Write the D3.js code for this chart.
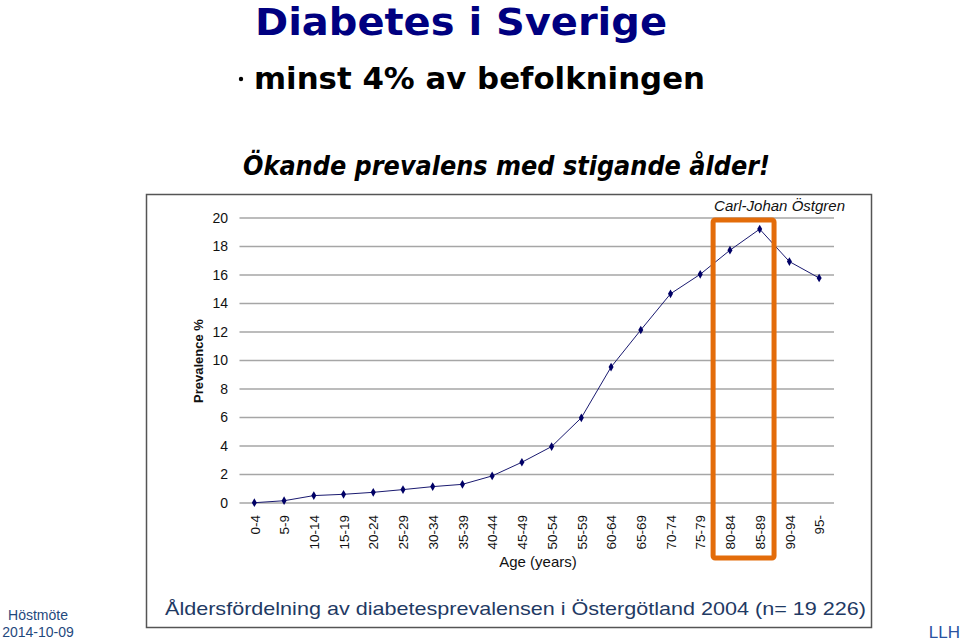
<!DOCTYPE html>
<html><head><meta charset="utf-8">
<script src="https://d3js.org/d3.v7.min.js"></script>
<style>body{margin:0;background:#fff}svg{display:block}</style>
</head><body>
<svg id="c" width="960" height="642"></svg>
<script>
const categories = ["0-4","5-9","10-14","15-19","20-24","25-29","30-34","35-39","40-44","45-49","50-54","55-59","60-64","65-69","70-74","75-79","80-84","85-89","90-94","95-"];
const prevalence = [0.02,0.16,0.52,0.61,0.75,0.94,1.15,1.31,1.9,2.86,3.96,5.98,9.54,12.14,14.68,16.05,17.74,19.22,16.94,15.79];
const yTicks = [0,2,4,6,8,10,12,14,16,18,20];
const highlight = ["80-84","85-89"];

const svg = d3.select("#c");
const F = "Liberation Sans, Arial, sans-serif";
const FN = "'Liberation Sans Narrow', 'Arial Narrow', Liberation Sans, Arial, sans-serif";

// Titles
svg.append("text").attr("x",255).attr("y",35).attr("font-family","DejaVu Sans, Verdana, sans-serif")
  .attr("font-weight","bold").attr("font-size",37).attr("fill","#000080")
  .attr("textLength",412).attr("lengthAdjust","spacingAndGlyphs").text("Diabetes i Sverige");
svg.append("circle").attr("cx",241).attr("cy",79).attr("r",2.2).attr("fill","#000");
svg.append("text").attr("x",254).attr("y",89).attr("font-family","DejaVu Sans, Verdana, sans-serif")
  .attr("font-weight","bold").attr("font-size",30).attr("fill","#000")
  .attr("textLength",451).attr("lengthAdjust","spacingAndGlyphs").text("minst 4% av befolkningen");
svg.append("text").attr("x",243).attr("y",175).attr("font-family","DejaVu Sans, Verdana, sans-serif")
  .attr("font-weight","bold").attr("font-style","italic").attr("font-size",27).attr("fill","#000")
  .attr("textLength",527).attr("lengthAdjust","spacingAndGlyphs").text("Ökande prevalens med stigande ålder!");

// Chart box
svg.append("rect").attr("x",146.5).attr("y",194.5).attr("width",725).attr("height",433)
  .attr("fill","#fff").attr("stroke","#555").attr("stroke-width",1.5);

const x = d3.scalePoint().domain(categories).range([239.5,834]).padding(0.5);
const y = d3.scaleLinear().domain([0,20]).range([503,218]);

// Grid
const g = svg.append("g");
g.selectAll("line.grid").data(yTicks).join("line").attr("class","grid")
  .attr("x1",239.5).attr("x2",834).attr("y1",d=>y(d)).attr("y2",d=>y(d))
  .attr("stroke","#a6a6a6").attr("stroke-width",1.3);

// Y axis via d3 axis
const yAxis = d3.axisLeft(y).tickValues(yTicks).tickSize(0).tickPadding(0);
const ya = svg.append("g").attr("transform","translate(228,0)").call(yAxis);
ya.select(".domain").remove();
ya.selectAll("text").attr("font-family",FN).attr("font-size",14).attr("fill","#111");

// X axis
const xAxis = d3.axisBottom(x).tickSize(0).tickPadding(0);
const xa = svg.append("g").attr("transform","translate(0,513)").call(xAxis);
xa.select(".domain").remove();
xa.selectAll("text").attr("font-family",F).attr("font-size",13.5).attr("fill","#111")
  .attr("transform","rotate(-90)").attr("text-anchor","end").attr("dy","0.35em").attr("y",0).attr("x",-2);

// Axis titles
svg.append("text").attr("x",538).attr("y",567).attr("text-anchor","middle").attr("font-family",FN)
  .attr("font-size",15).attr("fill","#111").text("Age (years)");
svg.append("text").attr("transform","translate(203,361) rotate(-90)").attr("text-anchor","middle")
  .attr("font-family",F).attr("font-weight","bold").attr("font-size",13).attr("fill","#111").text("Prevalence %");

// Line
const line = d3.line().x((d,i)=>x(categories[i])).y(d=>y(d));
svg.append("path").datum(prevalence).attr("d",line).attr("fill","none").attr("stroke","#1a1a70").attr("stroke-width",1);
svg.selectAll("path.m").data(prevalence).join("path").attr("class","m")
  .attr("d",d3.symbol(d3.symbolDiamond,22))
  .attr("transform",(d,i)=>`translate(${x(categories[i])},${y(d)})`).attr("fill","#000066");

// Highlight box
const step = x.step();
const hx0 = x(highlight[0]) - step/2 - 2, hx1 = x(highlight[1]) + step/2 - 0.5;
svg.append("rect").attr("x",hx0).attr("y",220).attr("width",hx1-hx0).attr("height",338)
  .attr("rx",2).attr("fill","none").attr("stroke","#E36C0A").attr("stroke-width",5);

// Author
svg.append("text").attr("x",845).attr("y",211).attr("text-anchor","end").attr("font-family",FN)
  .attr("font-style","italic").attr("font-size",15).attr("fill","#111").text("Carl-Johan Östgren");

// Caption
svg.append("text").attr("x",165).attr("y",615).attr("font-family",F).attr("font-size",19)
  .attr("fill","#1f3a64").attr("textLength",701).attr("lengthAdjust","spacingAndGlyphs")
  .text("Åldersfördelning av diabetesprevalensen i Östergötland 2004 (n= 19 226)");

// Footer
svg.append("text").attr("x",38).attr("y",620).attr("text-anchor","middle").attr("font-family",F)
  .attr("font-size",14).attr("fill","#1f497d").text("Höstmöte");
svg.append("text").attr("x",38).attr("y",637).attr("text-anchor","middle").attr("font-family",F)
  .attr("font-size",14).attr("fill","#1f497d").text("2014-10-09");
svg.append("text").attr("x",960).attr("y",638).attr("text-anchor","end").attr("font-family",F)
  .attr("font-size",17).attr("fill","#2a52a0").text("LLH");
</script>
</body></html>
